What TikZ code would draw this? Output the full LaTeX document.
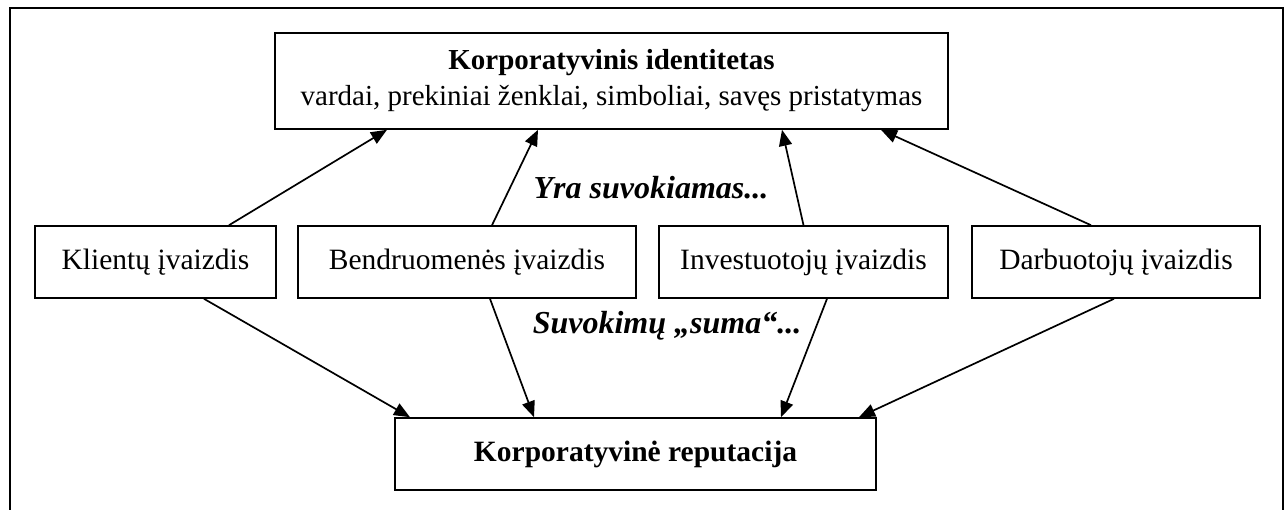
\documentclass[tikz,border=0pt]{standalone}
\usepackage{fontspec}
\setmainfont{Liberation Serif}
\usetikzlibrary{arrows.meta}
\begin{document}
\begin{tikzpicture}[x=1pt,y=-1pt,
  box/.style={draw, line width=1.6pt, inner sep=0pt, minimum height=72pt, align=center, font=\fontsize{29.5}{36}\selectfont},
  conn/.style={line width=1.7pt, -{Triangle[length=16pt,width=13pt]}},
  lbl/.style={font=\fontsize{32}{36}\selectfont\bfseries\itshape, inner sep=0pt},
  frame/.style={line width=1.6pt}]
\useasboundingbox (0,0) rectangle (1287,510);
\draw[frame] (10,510) -- (10,8) -- (1283,8) -- (1283,510);
\node[box, minimum width=673pt, minimum height=96pt, font=\fontsize{29}{36}\selectfont] (top) at (611.5,81)
  {\textbf{Korporatyvinis identitetas}\\ vardai, prekiniai ženklai, simboliai, savęs pristatymas};
\node[box, minimum width=241pt] (k) at (155.5,262) {Klientų įvaizdis};
\node[box, minimum width=338pt] (b) at (467,262) {Bendruomenės įvaizdis};
\node[box, minimum width=289pt] (i) at (803.5,262) {Investuotojų įvaizdis};
\node[box, minimum width=288pt] (d) at (1116,262) {Darbuotojų įvaizdis};
\node[box, minimum width=481pt, font=\fontsize{29.5}{36}\selectfont\bfseries] (r) at (635.5,454) {Korporatyvinė reputacija};
\node[lbl] (l1) at (651,188) {Yra suvokiamas...};
\node[lbl] (l2) at (667,326) {Suvokimų „suma“...};
\draw[conn] ([xshift=73.5pt]k.north) -- ([xshift=-224.5pt]top.south);
\draw[conn] ([xshift=25pt]b.north) -- ([xshift=-73.5pt]top.south);
\draw[conn] ([xshift=0pt]i.north) -- ([xshift=170.5pt]top.south);
\draw[conn] ([xshift=-25pt]d.north) -- ([xshift=269.5pt]top.south);
\draw[conn] ([xshift=48.5pt]k.south) -- ([xshift=-225.5pt]r.north);
\draw[conn] ([xshift=23pt]b.south) -- ([xshift=-101.5pt]r.north);
\draw[conn] ([xshift=23.5pt]i.south) -- ([xshift=145.5pt]r.north);
\draw[conn] ([xshift=-2pt]d.south) -- ([xshift=223.5pt]r.north);
\end{tikzpicture}
\end{document}
